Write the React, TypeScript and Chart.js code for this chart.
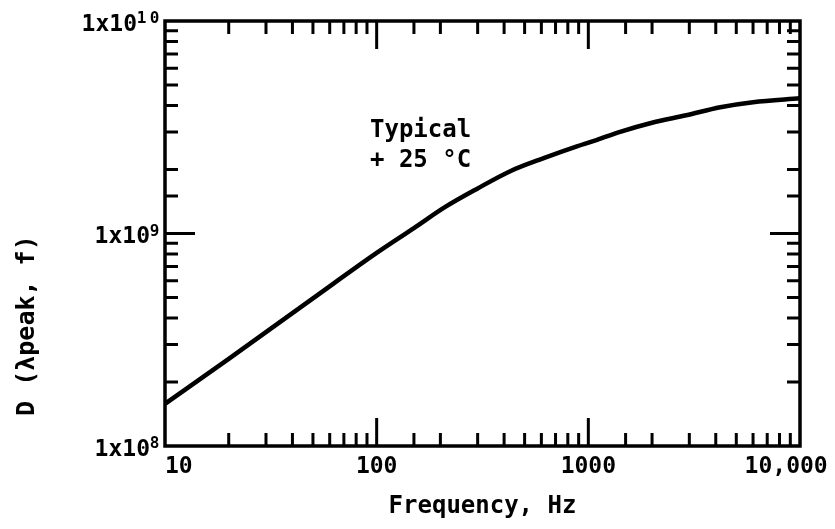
import React, { useEffect, useRef } from 'react';
import { Chart, registerables } from 'chart.js';

Chart.register(...registerables);

// ---- data ----
const frequencies = [10, 20, 50, 100, 150, 210, 300, 430, 620, 890, 1100, 1400, 2000, 2900, 4200, 6000, 10000];
const detectivity = [1.58e8, 2.57e8, 4.95e8, 8.1e8, 1.06e9, 1.33e9, 1.63e9, 1.97e9, 2.27e9, 2.58e9, 2.76e9, 3.0e9, 3.32e9, 3.6e9, 3.93e9, 4.15e9, 4.33e9];

const xMajorTicks = [10, 100, 1000, 10000];
const xTickLabels = ['10', '100', '1000', '10,000'];
const yMajorTicks = [1e8, 1e9, 1e10];
const yTickBase = ['1x10', '1x10', '1x10'];
const yTickExponents = ['8', '9', '10'];

const xTitle = 'Frequency, Hz';
const yTitle = 'D (λpeak, f)';
const annotationLines = ['Typical', '+ 25 °C'];
const annotationFreq = 93;
const annotationD = 2.85e9;

const FONT = '"DejaVu Sans Mono", "Liberation Mono", monospace';

const matchIndex = (list: number[], v: number) =>
  list.findIndex((m) => Math.abs(v - m) / m < 1e-6);

const isDecade = (v: number) => Math.abs(Math.log10(v) - Math.round(Math.log10(v))) < 1e-6;

const framePlugin = {
  id: 'frameTicks',
  afterDraw(chart: any) {
    const { ctx, chartArea: a, scales } = chart;
    const xs = scales.x;
    const ys = scales.y;
    ctx.save();
    ctx.strokeStyle = '#000';
    ctx.lineCap = 'butt';
    ctx.lineWidth = 3;
    ctx.beginPath();
    xs.ticks.forEach((t: any) => {
      const px = xs.getPixelForValue(t.value);
      if (px <= a.left + 1 || px >= a.right - 1) return;
      const len = isDecade(t.value) ? 28 : 13;
      ctx.moveTo(px, a.bottom);
      ctx.lineTo(px, a.bottom - len);
      ctx.moveTo(px, a.top);
      ctx.lineTo(px, a.top + len);
    });
    ys.ticks.forEach((t: any) => {
      const py = ys.getPixelForValue(t.value);
      if (py <= a.top + 1 || py >= a.bottom - 1) return;
      const len = isDecade(t.value) ? 30 : 13;
      ctx.moveTo(a.left, py);
      ctx.lineTo(a.left + len, py);
      ctx.moveTo(a.right, py);
      ctx.lineTo(a.right - len, py);
    });
    ctx.stroke();
    ctx.lineWidth = 3.5;
    ctx.strokeRect(a.left, a.top, a.right - a.left, a.bottom - a.top);

    ctx.fillStyle = '#000';

    // y tick labels with superscript exponents (monospaced, spaced like the original)
    const pitch = 13;
    yMajorTicks.forEach((v, i) => {
      const py = ys.getPixelForValue(v);
      const right = a.left - 4;
      const exp = yTickExponents[i];
      ctx.font = `bold 16px ${FONT}`;
      ctx.textAlign = 'center';
      ctx.textBaseline = 'alphabetic';
      for (let k = 0; k < exp.length; k++) {
        const cx = right - (exp.length - k - 0.5) * pitch;
        ctx.fillText(exp[k], cx, py + 2);
      }
      ctx.font = `bold 23px ${FONT}`;
      ctx.textAlign = 'right';
      ctx.textBaseline = 'middle';
      ctx.fillText(yTickBase[i], right - exp.length * pitch + 2, py + 4);
    });

    // annotation
    ctx.font = `bold 24px ${FONT}`;
    ctx.textAlign = 'left';
    ctx.textBaseline = 'alphabetic';
    const ax = xs.getPixelForValue(annotationFreq);
    const ay = ys.getPixelForValue(annotationD);
    annotationLines.forEach((line, i) => ctx.fillText(line, ax, ay + i * 30));
    ctx.restore();
  },
};

export default function App() {
  const canvasRef = useRef<HTMLCanvasElement | null>(null);

  useEffect(() => {
    document.body.style.margin = '0';
    const canvas = canvasRef.current;
    if (!canvas) return;
    const chart = new Chart(canvas, {
      type: 'line',
      data: {
        datasets: [
          {
            data: frequencies.map((f, i) => ({ x: f, y: detectivity[i] })),
            borderColor: '#000',
            borderWidth: 4.5,
            pointRadius: 0,
            fill: false,
            cubicInterpolationMode: 'monotone',
          },
        ],
      },
      options: {
        animation: false,
        responsive: false,
        layout: { padding: { top: 21, right: 35, left: 0, bottom: 0 } },
        plugins: {
          legend: { display: false },
          tooltip: { enabled: false },
        },
        scales: {
          x: {
            type: 'logarithmic',
            position: 'bottom',
            min: 10,
            max: 10000,
            grid: { display: false, drawTicks: false },
            border: { display: false },
            ticks: {
              autoSkip: false,
              maxRotation: 0,
              minRotation: 0,
              padding: 7,
              color: '#000',
              font: { family: FONT, size: 23, weight: 'bold', lineHeight: 1.2 },
              callback: (value: any) => {
                const v = Number(value);
                const i = matchIndex(xMajorTicks, v);
                if (i < 0) return '';
                if (i === 0) return '  ' + xTickLabels[i];
                if (i === xMajorTicks.length - 1) return xTickLabels[i] + '  ';
                return xTickLabels[i];
              },
            },
            title: {
              display: true,
              text: xTitle,
              color: '#000',
              font: { family: FONT, size: 24, weight: 'bold', lineHeight: 1.2 },
              padding: { top: 0, bottom: 8 },
            },
            afterFit: (s: any) => {
              s.height = 83;
              s.paddingLeft = 0;
              s.paddingRight = 0;
            },
          },
          y: {
            type: 'logarithmic',
            min: 1e8,
            max: 1e10,
            grid: { display: false, drawTicks: false },
            border: { display: false },
            ticks: {
              autoSkip: false,
              padding: 5,
              color: '#000',
              font: { family: FONT, size: 23, weight: 'bold', lineHeight: 1.2 },
              callback: () => '',
            },
            title: {
              display: true,
              text: '  ' + yTitle,
              align: 'start',
              color: '#000',
              font: { family: FONT, size: 25, weight: 'bold', lineHeight: 1.2 },
              padding: { top: 12, bottom: 0 },
            },
            afterFit: (s: any) => {
              s.width = 165;
              s.paddingTop = 0;
              s.paddingBottom = 0;
            },
          },
        },
      },
      plugins: [framePlugin],
    } as any);
    return () => chart.destroy();
  }, []);

  return (
    <div style={{ width: 835, height: 529, background: '#fff' }}>
      <canvas ref={canvasRef} width={835} height={529} style={{ display: 'block' }} />
    </div>
  );
}
